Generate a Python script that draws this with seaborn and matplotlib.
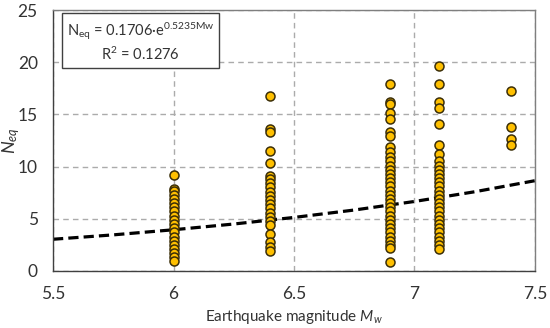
import matplotlib
matplotlib.use("Agg")
import matplotlib.pyplot as plt
import seaborn as sns
import pandas as pd
from matplotlib.ticker import MultipleLocator

sns.set_style("white")
plt.rcParams["font.family"] = ["Lato", "DejaVu Sans"]
plt.rcParams["mathtext.fontset"] = "custom"
plt.rcParams["mathtext.it"] = "Lato:italic"
plt.rcParams["mathtext.rm"] = "Lato"

GOLD = "#FFC000"
EDGE = "#3B2E08"

# magnitudes and N_eq values
mw_60 = [9.2, 7.9, 7.7, 7.3, 6.9, 6.5, 6.1, 5.7, 5.3, 4.9, 4.5, 4.1, 3.7,
         3.3, 2.9, 2.5, 2.1, 1.7, 1.3, 1.0]
mw_64 = [16.8, 13.6, 13.3, 11.5, 10.3, 9.1, 8.8, 8.4, 8.0, 7.6, 7.2, 6.8,
         6.4, 6.0, 5.6, 5.2, 4.8, 4.4, 3.5, 2.8, 2.3, 1.9]
mw_69 = [17.9, 16.2, 16.0, 15.1, 14.6, 13.3, 12.9, 11.9, 11.4, 10.9, 10.5,
         10.1, 9.7, 9.3, 8.9, 8.5, 8.1, 7.7, 7.3, 6.9, 6.5, 6.1, 5.7, 5.3,
         4.9, 4.5, 4.1, 3.7, 3.3, 2.9, 2.5, 2.2, 0.9]
mw_71 = [19.6, 17.9, 16.2, 15.6, 14.1, 12.1, 11.2, 10.5, 10.1, 9.7, 9.3,
         8.9, 8.5, 8.1, 7.7, 7.3, 6.9, 6.5, 6.1, 5.7, 5.3, 4.9, 4.5, 4.1,
         3.7, 3.3, 2.9, 2.5, 2.1]
mw_74 = [17.2, 13.8, 12.6, 12.1]

magnitudes = [6.0, 6.4, 6.9, 7.1, 7.4]
columns = [mw_60, mw_64, mw_69, mw_71, mw_74]

# fitted curve, read at a few magnitudes
fit_mw = [5.5, 5.75, 6.0, 6.25, 6.5, 6.75, 7.0, 7.25, 7.5]
fit_neq = [3.04, 3.46, 3.95, 4.50, 5.13, 5.84, 6.66, 7.59, 8.65]

df = pd.DataFrame(
    [(m, v) for m, col in zip(magnitudes, columns) for v in col],
    columns=["mw", "neq"],
)
fit = pd.DataFrame({"mw": fit_mw, "neq": fit_neq})

fig = plt.figure(figsize=(5.5, 3.28), dpi=100)
ax = fig.add_axes([0.0964, 0.1738, 0.8763, 0.7957])

ax.grid(True, which="major", ls=(0, (4, 3)), color="#ABABAB", lw=1)
sns.lineplot(data=fit, x="mw", y="neq", ax=ax, color="black", lw=2.3,
             ls=(0, (3.2, 1.6)), zorder=2)
sns.scatterplot(data=df, x="mw", y="neq", ax=ax, s=42, color=GOLD,
                edgecolor=EDGE, linewidth=1.1, zorder=3)

ax.set_xlim(5.5, 7.5)
ax.set_ylim(0, 25)
ax.xaxis.set_major_locator(MultipleLocator(0.5))
ax.xaxis.set_minor_locator(MultipleLocator(0.1))
ax.yaxis.set_major_locator(MultipleLocator(5))
ax.yaxis.set_minor_locator(MultipleLocator(1))
ax.set_xticks([5.5, 6, 6.5, 7, 7.5], ["5.5", "6", "6.5", "7", "7.5"])
ax.tick_params(axis="both", which="both", direction="in", colors="#404040",
               labelcolor="#333333", labelsize=12.5)
ax.tick_params(axis="both", which="major", length=4, pad=11)
ax.tick_params(axis="both", which="minor", length=3)

for s in ax.spines.values():
    s.set_color("#7F7F7F")
    s.set_linewidth(1)
ax.spines["left"].set_color("#404040")
ax.spines["bottom"].set_color("#404040")

ax.set_xlabel("Earthquake magnitude $\\mathit{M_w}$", fontsize=11,
              color="#333333")
ax.set_ylabel("$\\mathit{N_{eq}}$", fontsize=13, color="#333333")
ax.xaxis.set_label_coords(0.5, -0.14)
ax.yaxis.set_label_coords(-0.064, 0.5)

ax.text(0.1815, 0.877, "N$_{\\mathrm{eq}}$ = 0.1706·e$^{\\mathrm{0.5235Mw}}$\nR$^2$ = 0.1276",
        transform=ax.transAxes, ha="center", va="center", fontsize=10.5,
        color="#333333", linespacing=1.25,
        bbox=dict(boxstyle="square,pad=0.3", fc="white", ec="#404040", lw=1))

fig.savefig("out.png", dpi=100, facecolor="white")
